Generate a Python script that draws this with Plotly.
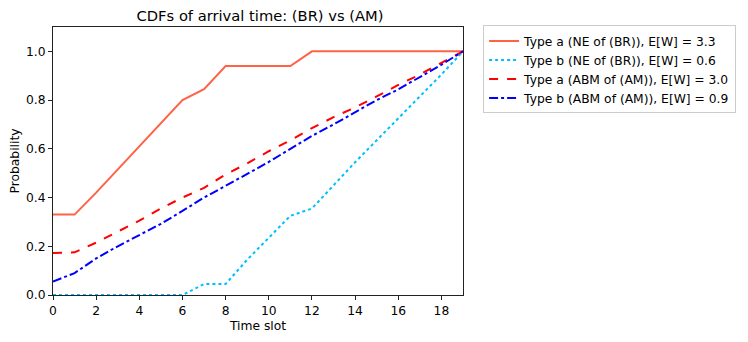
import plotly.graph_objects as go

# time slots 0..19
slots = list(range(20))

# CDF values
ne_type_a = [0.33, 0.33, 0.42, 0.515, 0.61, 0.705, 0.80, 0.845, 0.94, 0.94,
             0.94, 0.94, 1.0, 1.0, 1.0, 1.0, 1.0, 1.0, 1.0, 1.0]
ne_type_b = [0.0, 0.0, 0.0, 0.0, 0.0, 0.0, 0.0, 0.045, 0.045, 0.145,
             0.235, 0.325, 0.355, 0.45, 0.545, 0.635, 0.725, 0.815, 0.905, 1.0]
abm_type_a = [0.172, 0.175, 0.215, 0.26, 0.305, 0.355, 0.40, 0.44, 0.495, 0.54,
              0.59, 0.635, 0.685, 0.73, 0.77, 0.815, 0.862, 0.905, 0.952, 1.0]
abm_type_b = [0.055, 0.09, 0.15, 0.20, 0.246, 0.292, 0.345, 0.40, 0.448, 0.497,
              0.546, 0.60, 0.653, 0.70, 0.75, 0.80, 0.844, 0.895, 0.945, 1.0]

series = [
    ("Type a (NE of (BR)), E[W] = 3.3", ne_type_a, "#FF6347", "solid"),
    ("Type b (NE of (BR)), E[W] = 0.6", ne_type_b, "#00BFFF", "dot"),
    ("Type a (ABM of (AM)), E[W] = 3.0", abm_type_a, "#FF0000", "dash"),
    ("Type b (ABM of (AM)), E[W] = 0.9", abm_type_b, "#0000FF", "dashdot"),
]

fig = go.Figure()
for name, vals, color, dash in series:
    fig.add_trace(go.Scatter(
        x=slots, y=vals, mode="lines", name=name,
        line=dict(color=color, width=2, dash=dash),
    ))

axis_style = dict(
    showline=True, linecolor="#222222", linewidth=1, mirror=True,
    ticks="outside", ticklen=4, tickcolor="#222222",
    showgrid=False, zeroline=False, automargin=False,
    tickfont=dict(size=12.3, color="black"),
)

# the page body adds an 8px offset, so the figure is drawn 8px smaller
W, H = 740, 334
L, R, T, B = 45, 281, 19, 47
fig.update_layout(
    width=W, height=H,
    margin=dict(l=L, r=R, t=T, b=B),
    paper_bgcolor="white", plot_bgcolor="white",
    font=dict(family="DejaVu Sans", size=12.3, color="black"),
    title=dict(text="CDFs of arrival time: (BR) vs (AM)",
               x=(L + W - R) / 2 / W, xanchor="center",
               y=1 - 7.5 / H, yanchor="middle",
               font=dict(size=14.7)),
    xaxis=dict(range=[0, 19], tickvals=list(range(0, 19, 2)),
               title=dict(text="Time slot", font=dict(size=12.3), standoff=4),
               **axis_style),
    yaxis=dict(range=[0, 1.1], tickvals=[0, 0.2, 0.4, 0.6, 0.8, 1.0],
               tickformat=".1f",
               title=dict(text="Probability", font=dict(size=12.3), standoff=6),
               **axis_style),
    legend=dict(x=1.049, y=1.006, xanchor="left", yanchor="top",
                bgcolor="white", bordercolor="#cccccc", borderwidth=1,
                font=dict(size=12.3), tracegroupgap=0, itemwidth=30),
    showlegend=True,
)

fig.write_html("out.html")
